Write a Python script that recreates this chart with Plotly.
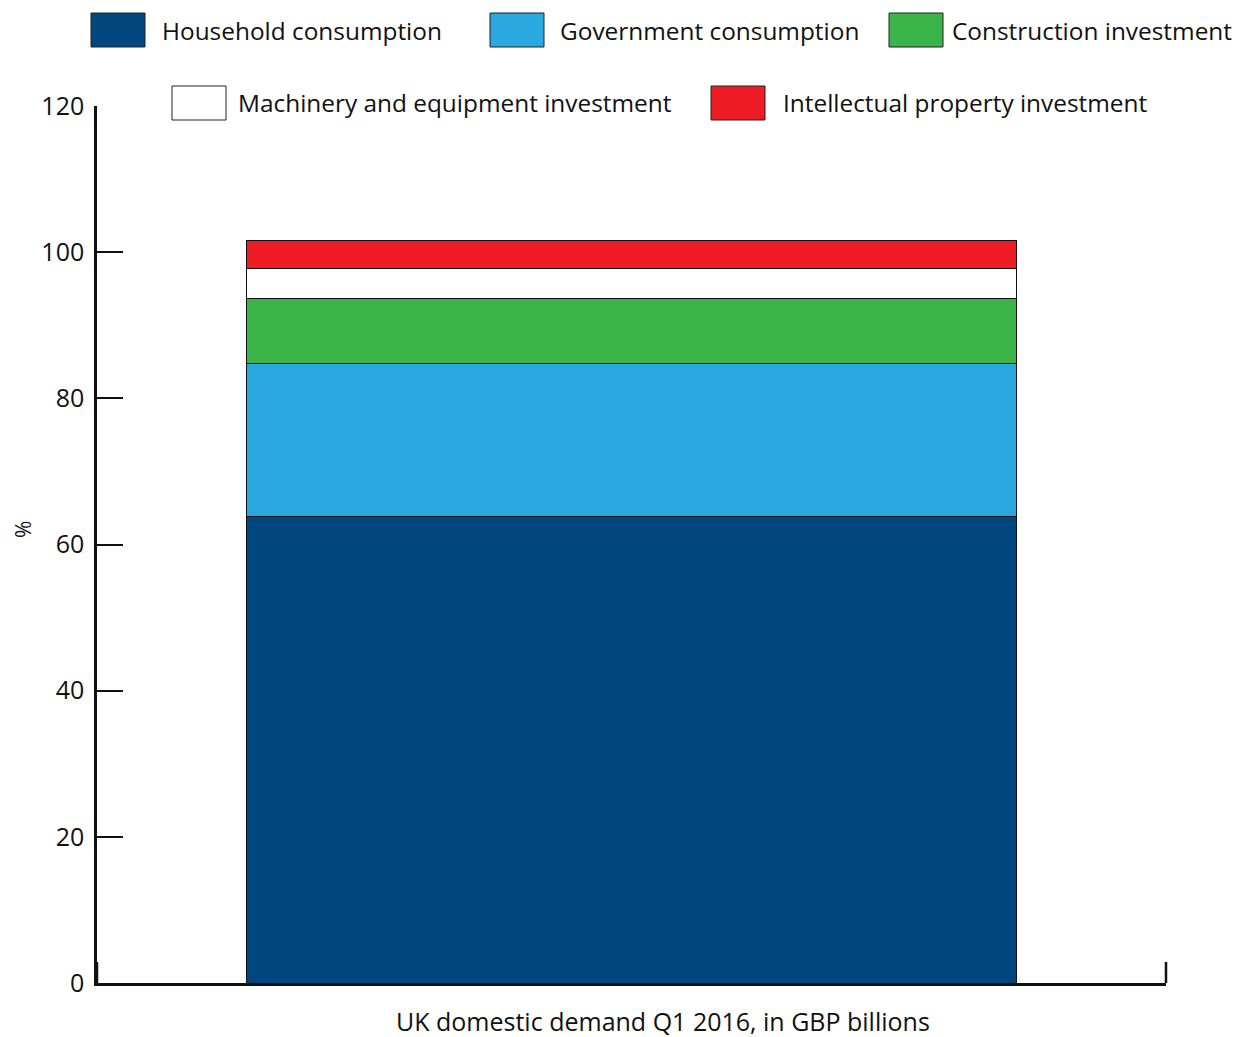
import plotly.graph_objects as go

category = ["UK domestic demand Q1 2016"]
series_names = [
    "Household consumption",
    "Government consumption",
    "Construction investment",
    "Machinery and equipment investment",
    "Intellectual property investment",
]
series_values = [63.8, 20.9, 9.0, 4.1, 3.8]
series_colors = ["#00477F", "#29A9E0", "#3AB54A", "#FFFFFF", "#EE1C25"]
y_ticks = [0, 20, 40, 60, 80, 100, 120]
x_title = "UK domestic demand Q1 2016, in GBP billions"
y_title = "%"

OFF = 8  # page body margin
W, H = 1244 - OFF, 1037 - OFF
# plot area in reference pixels: x 97..1166, y 106..983
ML = 97 - OFF
MT = 106 - OFF
MR = 1244 - 1166
MB = 1037 - 983
PW = 1166 - 97
PH = 983 - 106
FONT = "Open Sans"
FS = 25
LFS = 24.4


def px_x(px):
    return (px - 97) / PW


def px_y(py):
    return (983 - py) / PH


fig = go.Figure()
for name, val, col in zip(series_names, series_values, series_colors):
    fig.add_trace(go.Bar(
        x=category, y=[val], name=name,
        marker=dict(color=col, line=dict(color="#111111", width=1)),
        showlegend=False,
    ))

shapes = []
annotations = []
# custom legend (large swatches), positions in reference pixels
legend_pos = [
    (91, 13, 160), (490, 13, 558), (889, 13, 950),
    (172, 86, 236), (711, 86, 781),
]
for (sx, sy, tx), name, col in zip(legend_pos, series_names, series_colors):
    shapes.append(dict(
        type="rect", xref="paper", yref="paper",
        x0=px_x(sx), x1=px_x(sx + 54), y0=px_y(sy + 34), y1=px_y(sy),
        fillcolor=col, line=dict(color="#222222", width=1),
    ))
    annotations.append(dict(
        xref="paper", yref="paper", x=px_x(tx), y=px_y(sy + 17),
        text=name, showarrow=False, xanchor="left", yanchor="middle",
        font=dict(family=FONT, size=LFS, color="#111111"),
    ))

# x-axis end ticks
for xp in (0, 1):
    shapes.append(dict(
        type="line", xref="paper", yref="paper",
        x0=xp, x1=xp, y0=0, y1=21 / PH,
        line=dict(color="#111111", width=2.5),
    ))

annotations.append(dict(
    xref="paper", yref="paper", x=px_x(663), y=px_y(1021),
    text=x_title, showarrow=False, xanchor="center", yanchor="middle",
    font=dict(family=FONT, size=FS, color="#111111"),
))
annotations.append(dict(
    xref="paper", yref="paper", x=px_x(23), y=px_y(530),
    text=y_title, showarrow=False, textangle=-90,
    xanchor="center", yanchor="middle",
    font=dict(family=FONT, size=21, color="#111111"),
))

fig.update_layout(
    width=W, height=H,
    margin=dict(l=ML, r=MR, t=MT, b=MB),
    barmode="stack", bargap=0.28,
    plot_bgcolor="white", paper_bgcolor="white",
    font=dict(family=FONT, size=FS, color="#111111"),
    shapes=shapes, annotations=annotations,
    xaxis=dict(
        showticklabels=False, ticks="", showline=True,
        linecolor="#111111", linewidth=2.5, showgrid=False, zeroline=False,
    ),
    yaxis=dict(
        range=[0, 120], tickvals=y_ticks, ticks="inside", ticklen=26,
        tickwidth=2, tickcolor="#111111", showline=True,
        linecolor="#111111", linewidth=2.5, showgrid=False, zeroline=False,
        tickfont=dict(family=FONT, size=FS, color="#111111"),
        ticklabelstandoff=5,
    ),
)

fig.write_html("out.html")
